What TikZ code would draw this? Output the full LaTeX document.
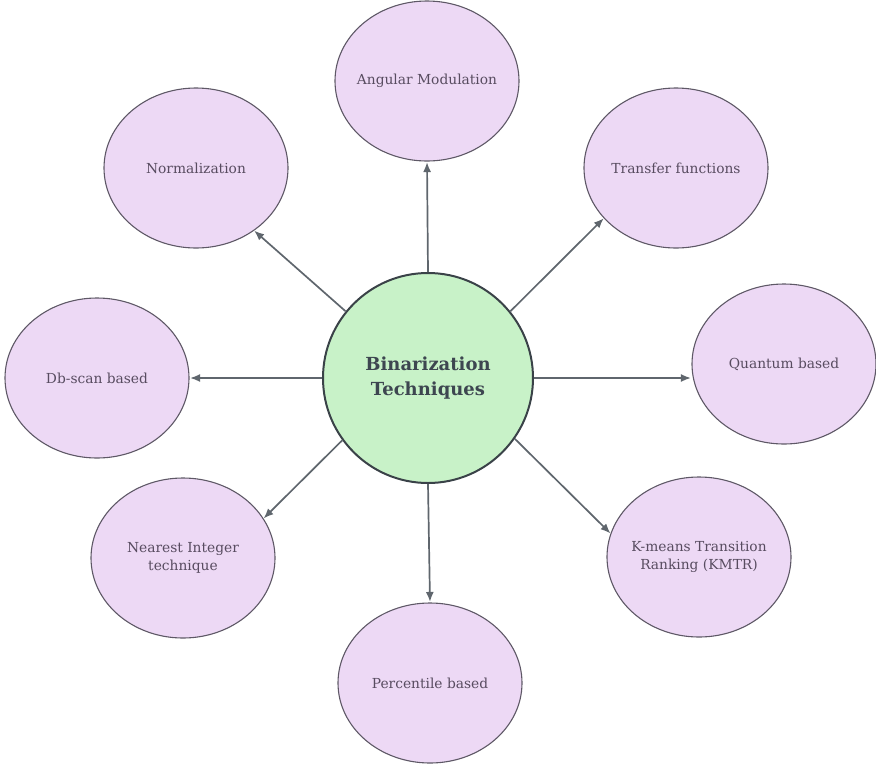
\documentclass[tikz,border=0pt]{standalone}
\usepackage{fontspec}
\setmainfont{DejaVu Serif}
\usetikzlibrary{arrows.meta,shapes.geometric,calc,intersections}

\definecolor{leaffill}{HTML}{EDD9F5}
\definecolor{leafline}{HTML}{5E5866}
\definecolor{leaftext}{HTML}{584C60}
\definecolor{hubfill}{HTML}{C8F2C8}
\definecolor{hubline}{HTML}{3A4248}
\definecolor{hubtext}{HTML}{3D4650}
\definecolor{arrowgray}{HTML}{5F666D}

% zero-width line so long captions do not enlarge the ellipse
\newcommand\midtxt[1]{\makebox[0pt]{#1}}

\tikzset{
  leaf/.style={ellipse, draw=leafline, line width=1.1pt, fill=leaffill,
    minimum width=184pt, minimum height=160pt, inner sep=0pt,
    align=center, text=leaftext, font=\fontsize{13.8}{18}\selectfont},
  hub/.style={circle, draw=hubline, line width=2pt, fill=hubfill,
    minimum size=210pt, inner sep=0pt, align=center, text=hubtext,
    font=\fontsize{18}{25}\selectfont\bfseries},
  link/.style={draw=arrowgray, line width=1.7pt,
    -{Latex[length=10pt,width=8pt]}, shorten >=0.5pt}
}

\begin{document}
\begin{tikzpicture}[x=1pt,y=-1pt]
  \useasboundingbox (0,0) rectangle (876,764);

  % central technique
  \node[hub] (c) at (428,378) {Binarization\\Techniques};

  % surrounding methods
  \node[leaf] (ang)   at (427,81)  {\midtxt{Angular Modulation}};
  \node[leaf] (norm)  at (196,168) {\midtxt{Normalization}};
  \node[leaf] (trans) at (676,168) {\midtxt{Transfer functions}};
  \node[leaf] (db)    at (97,378)  {\midtxt{Db-scan based}};
  \node[leaf] (quant) at (784,364) {\midtxt{Quantum based}};
  \node[leaf] (near)  at (183,558) {\midtxt{Nearest Integer}\\\midtxt{technique}};
  \node[leaf] (kmtr)  at (699,557) {\midtxt{K-means Transition}\\\midtxt{Ranking (KMTR)}};
  \node[leaf] (perc)  at (430,683) {\midtxt{Percentile based}};

  % straight connectors
  \draw[link] (c.north) -- (ang.south);
  \draw[link] (c.west) -- (db.east);
  \draw[link] (c.east) -- (quant.west |- c.east);
  \draw[link] (c.south) -- (perc.north);

  % diagonal connectors: leave the hub at a given angle, head for an aim
  % point and stop where they meet the ellipse rim
  \foreach \n/\s/\ax/\ay in {trans/39/601/221, norm/141/258/234,
                             near/216/262/520, kmtr/325/605/528} {
    \path[name path=ray] (c.\s) -- ($(c.\s)!2!(\ax,\ay)$);
    \path[name path=rim] (\n.center) ellipse [x radius=92pt, y radius=80pt];
    \draw[link, name intersections={of=ray and rim, by=hit}] (c.\s) -- (hit);
  }
\end{tikzpicture}
\end{document}
